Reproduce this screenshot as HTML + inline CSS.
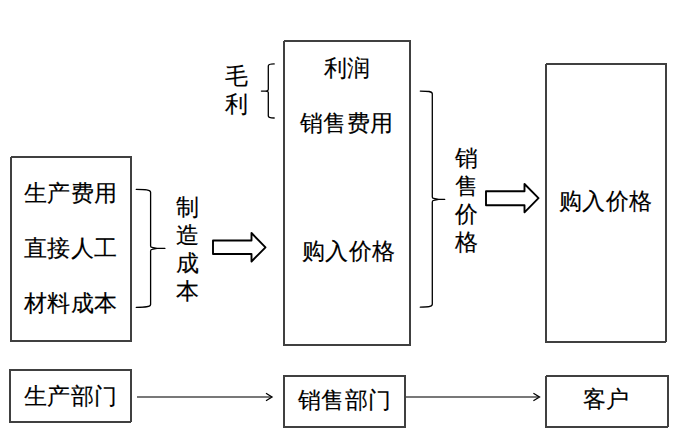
<!DOCTYPE html>
<html><head><meta charset="utf-8">
<style>
html,body{margin:0;padding:0;background:#fff;}
body{width:677px;height:438px;position:relative;overflow:hidden;font-family:"Liberation Sans",sans-serif;color:#000;}
.b{position:absolute;box-sizing:border-box;border:2px solid #404040;}
.t{position:absolute;white-space:nowrap;font-size:23px;line-height:23px;-webkit-text-stroke:0.15px #000;letter-spacing:0.4px;}
svg{position:absolute;left:0;top:0;}
</style></head><body>
<div class="b" style="left:10px;top:156px;width:122px;height:186px"></div>
<div class="b" style="left:283px;top:40px;width:128px;height:306px"></div>
<div class="b" style="left:545px;top:63px;width:122px;height:280px"></div>
<div class="b" style="left:9px;top:369px;width:123px;height:54px"></div>
<div class="b" style="left:283px;top:375px;width:123px;height:53px"></div>
<div class="b" style="left:545px;top:375px;width:124px;height:53px"></div>
<div style="position:absolute;left:10px;top:156px;width:1px;height:1px;background:#fff"></div><div style="position:absolute;left:283px;top:40px;width:1px;height:1px;background:#fff"></div><div style="position:absolute;left:545px;top:63px;width:1px;height:1px;background:#fff"></div><div style="position:absolute;left:666px;top:342px;width:1px;height:1px;background:#fff"></div><div style="position:absolute;left:131px;top:422px;width:1px;height:1px;background:#fff"></div><div style="position:absolute;left:545px;top:375px;width:1px;height:1px;background:#fff"></div><div style="position:absolute;left:668px;top:427px;width:1px;height:1px;background:#fff"></div>

<div class="t" id="t1" style="left:24px;top:182px">生产费用</div>
<div class="t" id="t2" style="left:24px;top:237px">直接人工</div>
<div class="t" id="t3" style="left:24px;top:292px">材料成本</div>
<div class="t" id="t4" style="left:176px;top:193px;width:23px;white-space:normal;line-height:28px">制造成本</div>
<div class="t" id="t5" style="left:225px;top:62px;width:23px;white-space:normal;line-height:28px">毛利</div>
<div class="t" id="t6" style="left:324px;top:57px">利润</div>
<div class="t" id="t7" style="left:300px;top:112px">销售费用</div>
<div class="t" id="t8" style="left:302px;top:240px">购入价格</div>
<div class="t" id="t9" style="left:455px;top:144px;width:23px;white-space:normal;line-height:28px">销售价格</div>
<div class="t" id="t10" style="left:559px;top:190px">购入价格</div>
<div class="t" id="t11" style="left:24px;top:385px">生产部门</div>
<div class="t" id="t12" style="left:298px;top:389px">销售部门</div>
<div class="t" id="t13" style="left:583px;top:388px">客户</div>

<svg width="677" height="438" viewBox="0 0 677 438">
<g fill="none" stroke="#000" stroke-width="1.3" stroke-linejoin="round" stroke-linecap="round">
<path d="M136.3,189.4 C145,189.4 150.6,189.6 150.6,192.2 V246 Q150.6,247.2 152,247.4 L157,248.4 H164.9 M157,248.4 L152,249.4 Q150.6,249.6 150.6,251 V304.6 C150.6,307.2 145,307.4 136.3,307.4"/>
<path d="M420.3,91.1 C428,91.1 432.3,91.3 432.3,93.8 V197 Q432.3,198.2 433.7,198.4 L438.7,199.4 H444.7 M438.7,199.4 L433.7,200.4 Q432.3,200.6 432.3,202 V304.3 C432.3,306.9 428,307.2 420.3,307.2"/>
<path d="M274.2,63.9 Q268.3,63.9 268.3,66 V89.6 Q268.3,90.6 267,90.8 L265.5,91.1 H261.4 M265.5,91.1 L267,91.4 Q268.3,91.6 268.3,92.6 V116 Q268.3,118 274.2,118"/>
</g>
<g fill="#fff" stroke="#000" stroke-width="1.9" stroke-linejoin="round">
<path d="M213,240.5 H251.5 V233 L265.5,247.3 L251.5,261.5 V254 H213 Z"/>
<path d="M486,191.2 H524.5 V184 L538.5,198.2 L524.5,212.3 V205.2 H486 Z"/>
</g>
<g fill="none" stroke="#787878" stroke-width="2">
<path d="M137,397 H271"/>
<path d="M406,397 H538"/>
</g>
<g fill="none" stroke="#000" stroke-width="1.3">
<path d="M266,393.3 L272,397 L266,400.7"/>
<path d="M533.4,393.3 L539.5,397 L533.4,400.7"/>
</g>
</svg>
</body></html>
